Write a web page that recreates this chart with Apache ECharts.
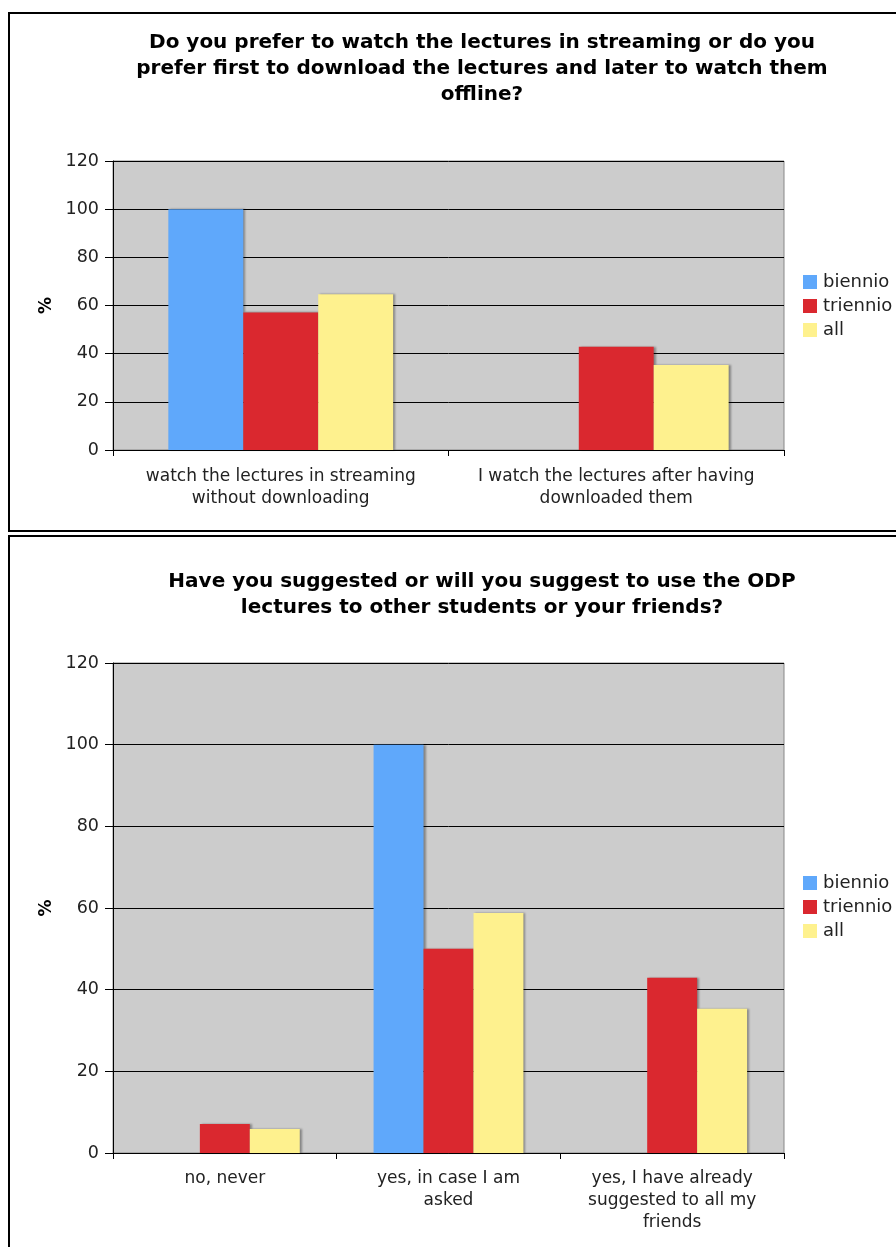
<!DOCTYPE html>
<html>
<head>
<meta charset="utf-8">
<script src="https://cdn.jsdelivr.net/npm/echarts@6/dist/echarts.min.js"></script>
<style>
html,body{margin:0;padding:0;background:#fff;}
#c{width:896px;height:1247px;}
</style>
</head>
<body>
<div id="c"></div>
<script>
const seriesNames = ['biennio', 'triennio', 'all'];
const colors = ['#5fa8fb', '#da282f', '#fef18e'];

const title1 = 'Do you prefer to watch the lectures in streaming or do you\nprefer first to download the lectures and later to watch them\noffline?';
const categories1 = ['watch the lectures in streaming\nwithout downloading', 'I watch the lectures after having\ndownloaded them'];
const biennio1 = [100, 0];
const triennio1 = [57.1, 42.9];
const all1 = [64.7, 35.3];

const title2 = 'Have you suggested or will you suggest to use the ODP\nlectures to other students or your friends?';
const categories2 = ['no, never', 'yes, in case I am\nasked', 'yes, I have already\nsuggested to all my\nfriends'];
const biennio2 = [0, 100, 0];
const triennio2 = [7.1, 50, 42.9];
const all2 = [5.9, 58.8, 35.3];

const yTicks = [0, 20, 40, 60, 80, 100, 120];

const FONT = 'DejaVu Sans';

function makeX(idx, cats, margin) {
  return {
    type: 'category', gridIndex: idx, data: cats,
    axisLine: { lineStyle: { color: '#000', width: 1 } },
    axisTick: { show: true, interval: 0, length: 6, lineStyle: { color: '#000' } },
    axisLabel: { interval: 0, hideOverlap: false, color: '#222', fontFamily: FONT, fontSize: 17, lineHeight: 22, margin: margin },
    splitLine: { show: false }
  };
}
function makeY(idx) {
  return {
    type: 'value', gridIndex: idx, min: yTicks[0], max: yTicks[yTicks.length - 1], interval: 20,
    name: '%', nameLocation: 'middle', nameRotate: 90, nameGap: 58,
    nameTextStyle: { color: '#000', fontFamily: FONT, fontWeight: 'bold', fontSize: 17 },
    axisLine: { show: true, lineStyle: { color: '#000', width: 1 } },
    axisTick: { show: true, length: 8, inside: false, lineStyle: { color: '#000' } },
    axisLabel: { color: '#222', fontFamily: FONT, fontSize: 17.5, margin: 14 },
    splitLine: { show: true, lineStyle: { color: '#000', width: 1 } }
  };
}
function makeSeries(idx, data) {
  return seriesNames.map((n, i) => ({
    name: n, type: 'bar', xAxisIndex: idx, yAxisIndex: idx,
    data: data[i], barGap: '0%', barCategoryGap: '33%',
    itemStyle: { color: colors[i], shadowColor: 'rgba(0,0,0,0.35)', shadowOffsetX: 2, shadowBlur: 2 },
    emphasis: { disabled: true }, animation: false
  }));
}
function makeLegend(top) {
  return {
    data: seriesNames, orient: 'vertical', left: 798, top: top,
    itemWidth: 14, itemHeight: 14, itemGap: 6, icon: 'rect',
    textStyle: { color: '#222', fontFamily: FONT, fontSize: 18, padding: [0, 0, 0, 1] },
    selectedMode: false
  };
}

const chart = echarts.init(document.getElementById('c'), null, { renderer: 'canvas' });
chart.setOption({
  animation: false,
  backgroundColor: '#fff',
  title: [
    { text: title1, left: 477, top: 25, textAlign: 'center',
      textStyle: { fontFamily: FONT, fontWeight: 'bold', fontSize: 20, lineHeight: 26, color: '#000' } },
    { text: title2, left: 477, top: 564, textAlign: 'center',
      textStyle: { fontFamily: FONT, fontWeight: 'bold', fontSize: 20, lineHeight: 26, color: '#000' } }
  ],
  legend: [makeLegend(268), makeLegend(869)],
  grid: [
    { left: 113, top: 161, width: 671, height: 289, show: true, backgroundColor: '#cccccc', borderColor: '#888', borderWidth: 1 },
    { left: 113, top: 663, width: 671, height: 490, show: true, backgroundColor: '#cccccc', borderColor: '#888', borderWidth: 1 }
  ],
  xAxis: [makeX(0, categories1, 16), makeX(1, categories2, 15)],
  yAxis: [makeY(0), makeY(1)],
  series: [
    ...makeSeries(0, [biennio1, triennio1, all1]),
    ...makeSeries(1, [biennio2, triennio2, all2])
  ],
  graphic: [
    { type: 'rect', shape: { x: 9, y: 13, width: 900, height: 518 }, style: { fill: 'none', stroke: '#000', lineWidth: 2 }, z: -1 },
    { type: 'rect', shape: { x: 9, y: 536, width: 900, height: 720 }, style: { fill: 'none', stroke: '#000', lineWidth: 2 }, z: -1 }
  ]
});
</script>
</body>
</html>
